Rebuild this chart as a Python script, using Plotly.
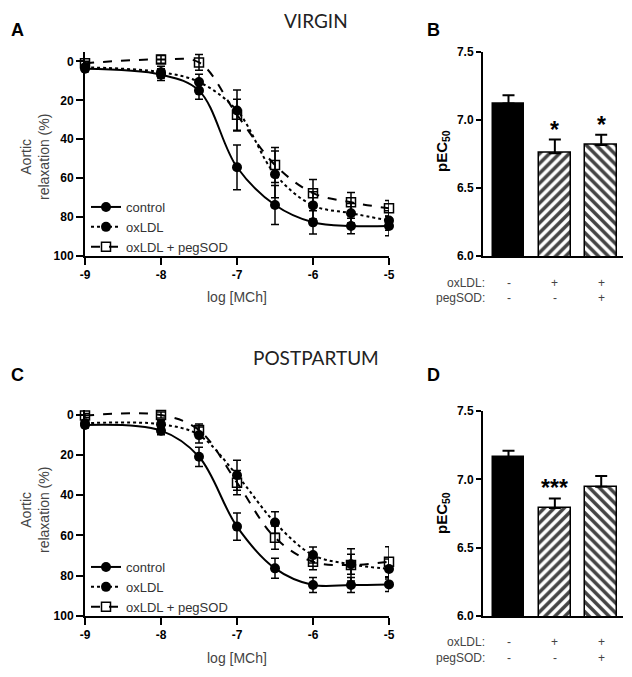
import plotly.graph_objects as go

# Concentration-response data (mean ± SEM, % relaxation)
log_mch = [-9, -8, -7.5, -7, -6.5, -6, -5.5, -5]

virgin_control = [3.8, 6.8, 15.0, 54.4, 73.8, 82.7, 84.6, 84.6]
virgin_control_err = [1.5, 3.0, 4.5, 11.5, 10.0, 6.0, 4.0, 5.0]
virgin_oxldl = [3.0, 5.5, 10.6, 25.2, 58.0, 74.0, 78.0, 81.8]
virgin_oxldl_err = [1.5, 3.0, 4.0, 10.5, 12.0, 7.0, 5.0, 5.0]
virgin_pegsod = [0.9, -1.0, 0.5, 27.4, 53.2, 67.7, 72.4, 75.5]
virgin_pegsod_err = [1.0, 2.0, 4.0, 8.0, 9.0, 7.0, 5.0, 4.0]

pp_control = [5.0, 7.8, 20.8, 55.6, 76.4, 84.7, 84.7, 84.4]
pp_control_err = [1.5, 2.0, 4.8, 6.8, 5.0, 3.7, 3.7, 3.5]
pp_oxldl = [4.1, 4.6, 10.0, 30.0, 53.6, 69.8, 74.4, 76.7]
pp_oxldl_err = [1.5, 2.0, 4.0, 7.5, 5.4, 4.0, 5.0, 5.0]
pp_pegsod = [0.3, 0.0, 7.5, 33.7, 61.1, 73.1, 74.7, 73.1]
pp_pegsod_err = [1.0, 1.5, 3.0, 6.0, 5.8, 4.0, 8.0, 7.5]

# pEC50 bars
groups = [0, 1, 2]
virgin_pec50 = [7.12, 6.755, 6.815]
virgin_pec50_err = [0.06, 0.10, 0.075]
pp_pec50 = [7.16, 6.79, 6.945]
pp_pec50_err = [0.05, 0.07, 0.08]
virgin_stars = ["", "*", "*"]
pp_stars = ["", "***", ""]
oxldl_signs = ["-", "+", "+"]
pegsod_signs = ["-", "-", "+"]

W, H = 632, 677
OFF = 8  # page body margin shifts the figure
FONT = "Liberation Sans, Arial, sans-serif"


def px(x):
    return (x - OFF) / W


def py(y):
    return 1 - (y - OFF) / H


fig = go.Figure()

series_style = [
    ("control", dict(color="black", width=2, dash="solid"),
     dict(symbol="circle", size=10, color="black")),
    ("oxLDL", dict(color="black", width=2, dash="dot"),
     dict(symbol="circle", size=10, color="black")),
    ("oxLDL + pegSOD", dict(color="black", width=2, dash="dash"),
     dict(symbol="square-open", size=9, color="black", line=dict(width=1.5))),
]

panels = [
    ("x", "y", "legend", [(virgin_control, virgin_control_err),
                          (virgin_oxldl, virgin_oxldl_err),
                          (virgin_pegsod, virgin_pegsod_err)]),
    ("x3", "y3", "legend2", [(pp_control, pp_control_err),
                             (pp_oxldl, pp_oxldl_err),
                             (pp_pegsod, pp_pegsod_err)]),
]

for xa, ya, leg, data in panels:
    for (name, line, marker), (vals, err) in zip(series_style, data):
        fig.add_trace(go.Scatter(
            x=log_mch, y=vals, name=name,
            mode="lines+markers", line=line, line_shape="spline",
            marker=marker,
            error_y=dict(type="data", array=err, color="black",
                         thickness=1.5, width=4),
            xaxis=xa, yaxis=ya, legend=leg, cliponaxis=False,
        ))

for xa, ya, vals, err in [("x2", "y2", virgin_pec50, virgin_pec50_err),
                          ("x4", "y4", pp_pec50, pp_pec50_err)]:
    fig.add_trace(go.Bar(
        x=groups, y=vals, width=0.69,
        marker=dict(color=["black", "white", "white"],
                    line=dict(color="black", width=1.5),
                    pattern=dict(shape=["", "/", "\\"], fgcolor="#000000",
                                 fgopacity=1, bgcolor="white",
                                 size=7, solidity=0.5)),
        error_y=dict(type="data", array=err,
                     arrayminus=[0] * len(err), symmetric=False,
                     color="black", thickness=2, width=6),
        xaxis=xa, yaxis=ya, showlegend=False,
    ))

# axes
line_ax = dict(showline=True, linecolor="black", linewidth=2, showgrid=False,
               zeroline=False, ticks="outside", tickcolor="black",
               tickwidth=2, automargin=False,
               tickfont=dict(family=FONT, size=12, color="black",
                             weight="bold"))

xticks = [-9, -8, -7, -6, -5]
xlabels = ["-9", "-8", "-7", "-6", "-5"]
dose_x = dict(line_ax, range=[-9, -5], tickvals=xticks, ticktext=xlabels,
              ticklen=7, domain=[px(85), px(389)])
bar_x = dict(showline=True, linecolor="black", linewidth=2, showgrid=False,
             zeroline=False, showticklabels=False, ticks="", automargin=False,
             range=[-0.55, 2.47], domain=[px(483), px(623)])
pec_ticks = [6.0, 6.5, 7.0, 7.5]
legend_font = dict(family=FONT, size=13, color="#333333")

fig.update_layout(
    width=W, height=H,
    margin=dict(l=0, r=0, t=0, b=0, pad=0, autoexpand=False),
    plot_bgcolor="white", paper_bgcolor="white",
    font=dict(family=FONT, color="#333333"),
    xaxis=dict(dose_x, anchor="y"),
    yaxis=dict(line_ax, range=[100, -5], tickvals=[0, 20, 40, 60, 80, 100],
               ticklen=7, anchor="x", domain=[py(256), py(51.7)]),
    xaxis2=dict(bar_x, anchor="y2"),
    yaxis2=dict(line_ax, range=[6, 7.5], tickvals=pec_ticks,
                ticktext=[f"{v:.1f}" for v in pec_ticks], ticklen=5,
                anchor="x2", domain=[py(256), py(51.7)]),
    xaxis3=dict(dose_x, anchor="y3"),
    yaxis3=dict(line_ax, range=[100, -2.5], tickvals=[0, 20, 40, 60, 80, 100],
                ticklen=7, anchor="x3", domain=[py(615.7), py(410)]),
    xaxis4=dict(bar_x, anchor="y4"),
    yaxis4=dict(line_ax, range=[6, 7.5], tickvals=pec_ticks,
                ticktext=[f"{v:.1f}" for v in pec_ticks], ticklen=5,
                anchor="x4", domain=[py(616), py(411)]),
    legend=dict(x=px(86), y=py(192), xanchor="left", yanchor="top",
                bgcolor="rgba(0,0,0,0)", itemwidth=30, font=legend_font),
    legend2=dict(x=px(86), y=py(552), xanchor="left", yanchor="top",
                 bgcolor="rgba(0,0,0,0)", itemwidth=30, font=legend_font),
    bargap=0,
)

ann = []


def note(text, x, y, size, color="#444444", bold=False, **kw):
    d = dict(text=text, x=px(x), y=py(y), xref="paper", yref="paper",
             xanchor="center", yanchor="middle", showarrow=False,
             font=dict(family=FONT, size=size, color=color,
                       weight="bold" if bold else "normal"))
    d.update(kw)
    ann.append(d)


# panel letters and titles
for letter, x, y in [("A", 17.5, 30), ("B", 433.5, 30),
                     ("C", 17.5, 375), ("D", 433.5, 375)]:
    note(letter, x, y, 18, color="black", bold=True)
for title, y in [("VIRGIN", 20), ("POSTPARTUM", 357)]:
    note(title, 316, y, 19, color="#222222")
    ann[-1]["font"]["family"] = "Lato"

for y_mid, y_lab in [(157, 297), (510, 658)]:
    note("Aortic<br>relaxation (%)", 35, y_mid, 14, textangle=-90)
    note("log [MCh]", 237, y_lab, 14)

for y_mid in [151, 513]:
    note("pEC<sub>50</sub>", 442, y_mid, 15, color="black", bold=True,
         textangle=-90)

# treatment rows under bars
for xa, y1, y2 in [("x2", 282.5, 298.5), ("x4", 641.7, 658)]:
    for lab, y, signs in [("oxLDL:", y1, oxldl_signs),
                          ("pegSOD:", y2, pegsod_signs)]:
        note(lab, 487, y, 12, xanchor="right")
        for g, s in zip(groups, signs):
            ann.append(dict(text=s, x=g, y=py(y), xref=xa, yref="paper",
                            xanchor="center", yanchor="middle",
                            showarrow=False,
                            font=dict(family=FONT, size=12, color="#444444")))

# significance stars
for xa, ya, vals, err, stars in [("x2", "y2", virgin_pec50, virgin_pec50_err, virgin_stars),
                                 ("x4", "y4", pp_pec50, pp_pec50_err, pp_stars)]:
    for g, v, e, s in zip(groups, vals, err, stars):
        if s:
            ann.append(dict(text=s, x=g, y=v + e, xref=xa, yref=ya,
                            xanchor="center", yanchor="bottom", yshift=-5,
                            showarrow=False,
                            font=dict(family=FONT, size=23, color="black",
                                      weight="bold")))

fig.update_layout(annotations=ann)
fig.write_html("out.html")
